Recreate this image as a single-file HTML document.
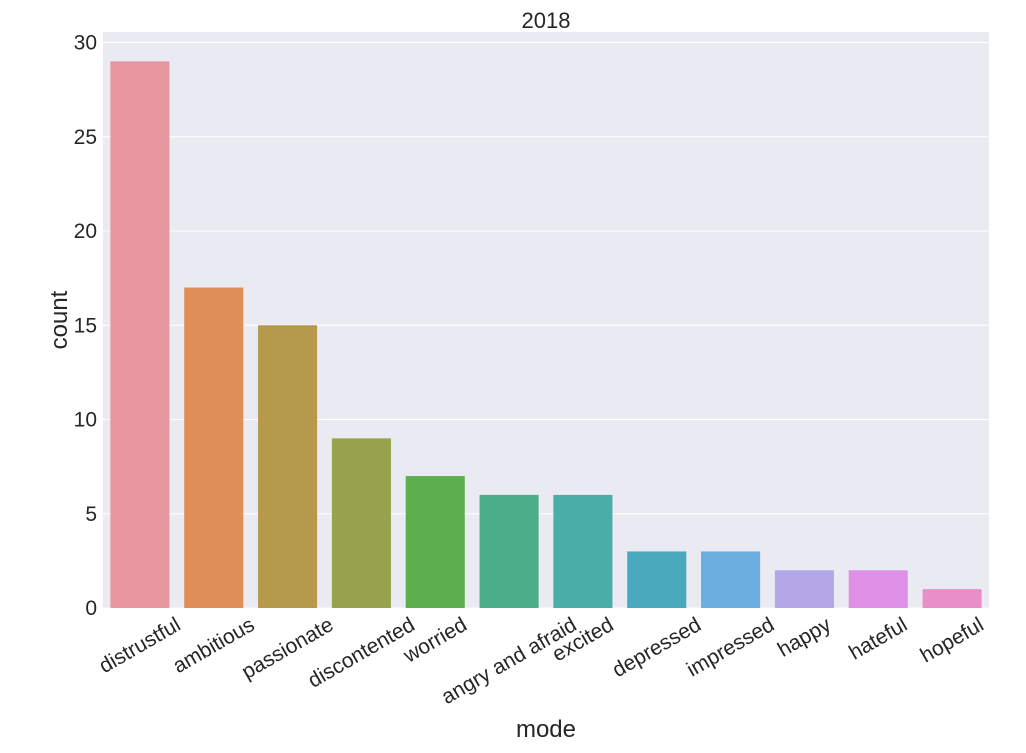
<!DOCTYPE html>
<html><head><meta charset="utf-8"><style>
body{margin:0;background:#fff;}
svg text{font-family:"Liberation Sans",sans-serif;fill:#262626;}
</style></head><body>
<svg id="chart" width="1026" height="748">
<rect x="103" y="32" width="886" height="576" fill="#eaeaf2"/>
<g id="grid"></g><g id="bars"></g><g id="yticks"></g><g id="xticks"></g>
<text x="546" y="28" font-size="22" text-anchor="middle">2018</text>
<text x="546" y="737" font-size="24" text-anchor="middle">mode</text>
<text transform="translate(67,320) rotate(-90)" font-size="24" text-anchor="middle">count</text>
</svg>
<script>
const categories=["distrustful","ambitious","passionate","discontented","worried","angry and afraid","excited","depressed","impressed","happy","hateful","hopeful"];
const counts=[29,17,15,9,7,6,6,3,3,2,2,1];
const colors=["#e8969f","#e08e57","#b69a4c","#97a34c","#5daf4e","#4bae88","#4aada7","#4aa9bc","#6aaee0","#b3a7e8","#e08fe6","#e88fc8"];
const yTicks=[0,5,10,15,20,25,30];
const ns="http://www.w3.org/2000/svg";
const left=103,right=989,y0=608,yPer=18.85;
const step=(right-left)/categories.length;
const y=v=>y0-v*yPer;
const xc=i=>left+step*(i+0.5);
function mk(t,a,p){const e=document.createElementNS(ns,t);for(const k in a)e.setAttribute(k,a[k]);document.getElementById(p).appendChild(e);return e;}
yTicks.forEach(t=>{
 const g=mk("line",{x1:left,x2:right,y1:y(t),y2:y(t),stroke:"#fff","stroke-width":1},"grid");
 
 
 const l=mk("text",{x:97,y:y(t)+7,"font-size":21,"text-anchor":"end"},"yticks");
 l.textContent=t;
 
 
});
categories.forEach((c,i)=>{
 const w=step*0.8;
 const r=mk("rect",{x:xc(i)-w/2,y:y(counts[i]),width:w,height:counts[i]*yPer,fill:colors[i]},"bars");
 
 
 const t=mk("text",{"font-size":21,"text-anchor":"middle","dominant-baseline":"central"},"xticks");
 t.textContent=c;
 
 
 const tw=t.getComputedTextLength();
 const cy=614+(tw*0.5+21*0.866)/2;
 t.setAttribute("transform",`translate(${xc(i)},${cy}) rotate(-30)`);
});
</script>
</body></html>
